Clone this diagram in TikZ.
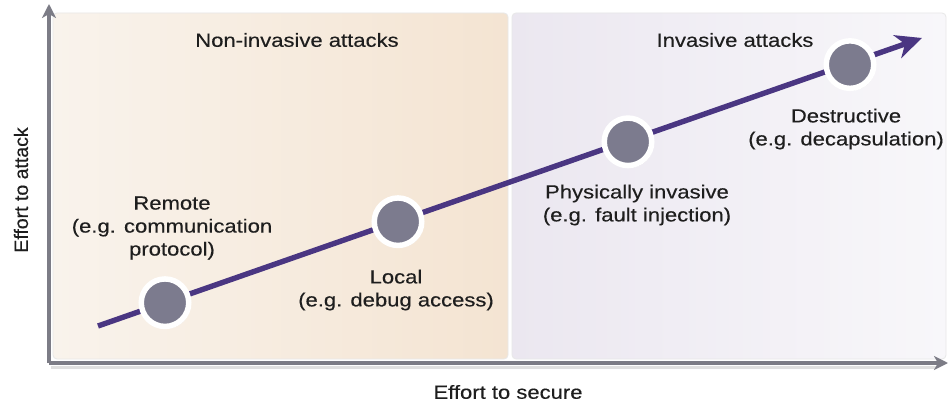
\documentclass[tikz,border=0pt]{standalone}
\usepackage{fontspec}
\setmainfont{Liberation Sans}[FakeStretch=1.16,FakeBold=0.3]
\newfontfamily\plainsans{Liberation Sans}[FakeBold=0.3]
\usetikzlibrary{arrows.meta,shadows}
\definecolor{axisgray}{HTML}{7C7C86}
\definecolor{linepurple}{HTML}{4A3682}
\definecolor{dotgray}{HTML}{7C7B8E}
\definecolor{txt}{HTML}{1E1E1E}
\definecolor{peachA}{HTML}{F9F3EC}
\definecolor{peachB}{HTML}{F4E4D2}
\definecolor{lavA}{HTML}{EBE7F0}
\definecolor{lavB}{HTML}{F8F7FA}
\tikzset{
  lbl/.style={text=txt, font=\fontsize{19}{23}\selectfont, align=center, inner sep=0pt},
  panel/.style={rounded corners=4pt, draw=black!9, line width=0.8pt},
  axis/.style={draw=axisgray, line width=3.4pt, -{Stealth[length=14pt,width=14pt,inset=4pt]}},
  axisshadow/.style={draw=black!12, line width=3pt},
  mainarrow/.style={draw=linepurple, line width=5.4pt, -{Stealth[length=26pt,width=24pt,inset=8pt]}},
  dot/.style={circle, minimum size=47.5pt, inner sep=0pt, fill=dotgray, draw=white, line width=5.5pt,
    drop shadow={shadow xshift=1.5pt, shadow yshift=-2pt, opacity=0.25, fill=black}},
}
\begin{document}
\begin{tikzpicture}[x=1pt,y=-1pt]
\useasboundingbox (0,0) rectangle (948,406);
\fill[white] (0,0) rectangle (948,406);
% panels
\shade[panel, left color=peachA, right color=peachB] (53,13) rectangle (508,359);
\shade[panel, left color=lavA, right color=lavB] (512,13) rectangle (946,359);
% axes
\coordinate (O) at (49,363);
\coordinate (ytop) at (49,4);
\coordinate (xend) at (948,363);
\coordinate (Os) at (51,367);
\coordinate (xends) at (936,367);
\draw[axisshadow] (Os) -- (xends);
\draw[axis] (O) -- (ytop);
\draw[axis] (O) -- (xend);
% main arrow
\coordinate (start) at (98,326);
\coordinate (tip) at (922,38);
\draw[mainarrow] (start) -- (tip);
% dots
\node[dot] (remote) at (165,302.7) {};
\node[dot] (local) at (398,221.7) {};
\node[dot] (phys) at (628,141.8) {};
\node[dot] (destr) at (850,64.6) {};
% labels
\node[lbl] (nonlbl) at (297,40) {Non-invasive attacks};
\node[lbl] (invlbl) at (735,40) {Invasive attacks};
\node[lbl] (remotelbl) at (172,228) {Remote\\(e.g. communication\\protocol)};
\node[lbl] (locallbl) at (396,290) {Local\\(e.g. debug access)};
\node[lbl] (physlbl) at (637,205) {Physically invasive\\(e.g. fault injection)};
\node[lbl] (destrlbl) at (846,129) {Destructive\\(e.g. decapsulation)};
\node[lbl, rotate=90, font=\plainsans\fontsize{19.5}{23}\selectfont] (ylbl) at (21,190) {Effort to attack};
\node[lbl] (xlbl) at (508,392) {Effort to secure};
\end{tikzpicture}
\end{document}
